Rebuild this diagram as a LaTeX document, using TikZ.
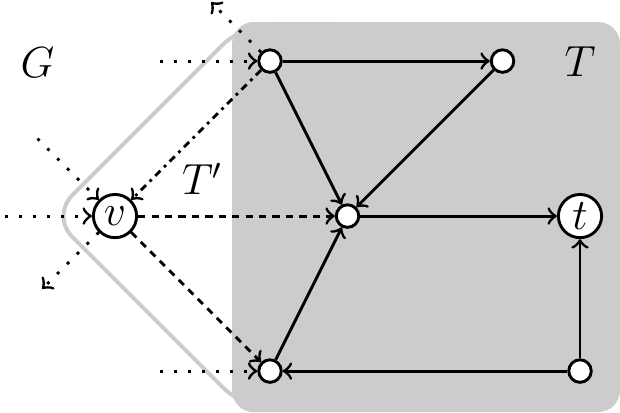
\documentclass[tikz,border=0pt]{standalone}
\def\gridsep{1.5cm}

\begin{document}
\begin{tikzpicture}[->, thick, x=\gridsep, y=\gridsep, font=\fontsize{11.5pt}{14pt}\selectfont]
    \tikzstyle{vertex}=[circle,draw,fill=white,minimum size=6.2pt,inner sep=0pt]
    \tikzstyle{named vertex}=[vertex, minimum size=11.9pt];
    \tikzstyle{outer edge}=[dash pattern=on 0.8pt off 3.05pt];
    \tikzstyle{tree edge}=[dash pattern=on 2pt off 1.7pt];
    \tikzstyle{back edge}=[dash pattern=on 2pt off 1.4pt on 0.8pt off 1.4pt];
    \tikzstyle{region}=[-, rounded corners=6pt];
    \tikzstyle{annot}=[inner sep=0pt]

    \useasboundingbox (-0.742,-1.265) rectangle (3.258,1.394);

    % The region T' and the region T
    \draw[region, rounded corners=8pt, draw=black!20, line width=1.1pt]
        (-0.41,0) -- (0.83,1.24) -- (1.6,1.24) -- (1.6,-1.24) -- (0.83,-1.24) -- cycle;
    \fill[region, black!20] (0.755,-1.265) rectangle (3.258,1.252);

    % Draw the vertices
    \node[named vertex] (v) at (0,0) {$v$};
    \node[named vertex] (t) at (3,0) {$t$};
    \foreach \name / \x / \y in {1/1/1, 2/2.5/1, 3/1.5/0, 4/1/-1, 5/3/-1}
        \node[vertex] (T-\name) at (\x,\y) {};

    % Loose ends of the edges that leave the picture
    \coordinate (in-1) at (0.29,1);
    \coordinate (out-1) at (0.62,1.38);
    \coordinate (in-2) at (-0.5,0.5);
    \coordinate (in-3) at (-0.8,0);
    \coordinate (out-2) at (-0.47,-0.47);
    \coordinate (in-4) at (0.29,-1);

    % Edges inside T
    \foreach \source / \dest in {T-1/T-2, T-1/T-3, T-2/T-3, T-3/t, T-4/T-3, T-5/t, T-5/T-4}
        \path (\source) edge (\dest);

    % Edges leaving v
    \path (v) edge[tree edge] (T-3);
    \path (v) edge[tree edge] (T-4);
    \path (T-1) edge[back edge] (v);

    % Edges of G
    \foreach \source / \dest in {in-1/T-1, T-1/out-1, in-2/v, in-3/v, v/out-2, in-4/T-4}
        \path (\source) edge[outer edge] (\dest);

    % Annotate the regions
    \node[annot] (g) at (-0.5,0.99) {$G$};
    \node[annot] (tl) at (3,0.994) {$T$};
    \node[annot] (tpl) at (0.565,0.24) {$T'$};
\end{tikzpicture}
\end{document}
